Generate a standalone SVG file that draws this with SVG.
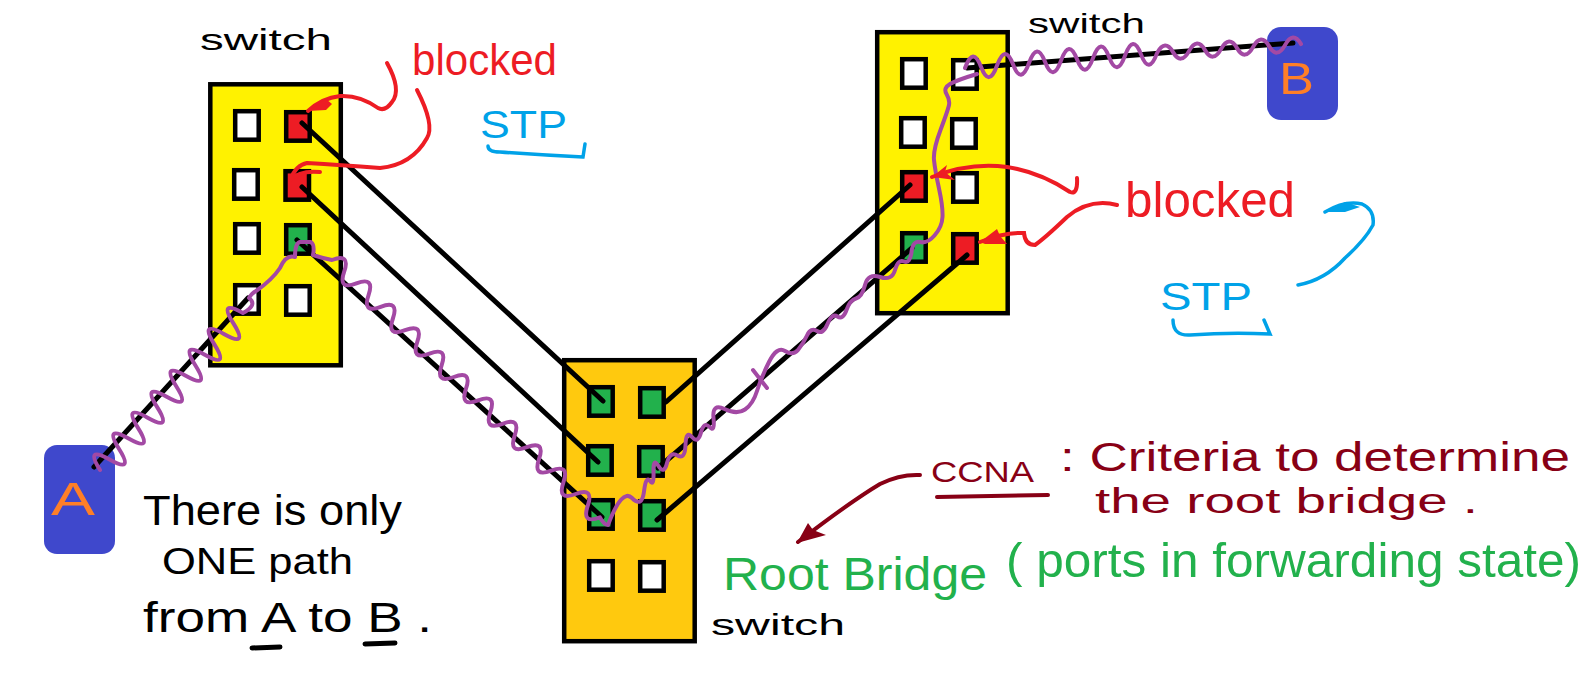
<svg xmlns="http://www.w3.org/2000/svg" width="1588" height="683" viewBox="0 0 1588 683">
<style>
text{font-family:"Liberation Sans",sans-serif}
.sw{stroke:#000;stroke-width:4.5}
.p{stroke:#000;stroke-width:4.5;width:23.5px;height:28.5px}
.w{fill:#fff}.r{fill:#ed1c24}.g{fill:#22b14c}
.l{fill:none;stroke:#000;stroke-width:5;stroke-linecap:round}
.v{fill:none;stroke:#a349a4;stroke-width:4;stroke-linejoin:round;stroke-linecap:round}
.ra{fill:none;stroke:#ed1c24;stroke-width:4;stroke-linecap:round}
.bl{fill:none;stroke:#00a2e8;stroke-width:3.5;stroke-linecap:round}
.dr{fill:none;stroke:#880015;stroke-width:4;stroke-linecap:round}
.k{fill:#000}.rt{fill:#ed1c24}.bt{fill:#00a2e8}.dt{fill:#880015}.gt{fill:#22b14c}
</style>
<rect width="1588" height="683" fill="#fff"/>
<g id="switch1">
<rect class="sw" x="210.300" y="84.300" width="130.500" height="281" fill="#fff200"/>
<rect class="p w" x="235.200" y="111.200"/><rect class="p r" x="286.200" y="112.200"/>
<rect class="p w" x="234.200" y="170.200"/><rect class="p r" x="285.500" y="171.200"/>
<rect class="p w" x="235.200" y="224.200"/><rect class="p g" x="286.200" y="225.200"/>
<rect class="p w" x="235.200" y="285.200"/><rect class="p w" x="286.200" y="286.200"/>
</g>
<g id="switch2">
<rect class="sw" x="877.200" y="32.200" width="130.500" height="281" fill="#fff200"/>
<rect class="p w" x="902.200" y="59.200"/><rect class="p w" x="953.200" y="60.200"/>
<rect class="p w" x="901.200" y="118.200"/><rect class="p w" x="952.200" y="119.200"/>
<rect class="p r" x="902.200" y="172.200"/><rect class="p w" x="953.200" y="173.200"/>
<rect class="p g" x="902.200" y="233.200"/><rect class="p r" x="953.200" y="234.200"/>
</g>
<g id="switch3">
<rect class="sw" x="564.200" y="360.200" width="130.500" height="281" fill="#ffc90e"/>
<rect class="p g" x="589.200" y="387.200"/><rect class="p g" x="640.200" y="388.200"/>
<rect class="p g" x="588.200" y="446.200"/><rect class="p g" x="639.200" y="447.200"/>
<rect class="p g" x="589.200" y="500.200"/><rect class="p g" x="640.200" y="501.200"/>
<rect class="p w" x="589.200" y="561.200"/><rect class="p w" x="640.200" y="562.200"/>
</g>
<g id="hostA"><rect x="44" y="445" width="71" height="109" rx="13" fill="#3f48cc"/><text x="51" y="515" font-size="47" fill="#ff7f27" textLength="44" lengthAdjust="spacingAndGlyphs">A</text></g>
<g id="hostB"><rect x="1267" y="27" width="71" height="93" rx="14" fill="#3f48cc"/><text x="1279" y="94" font-size="44" fill="#ff7f27" textLength="35" lengthAdjust="spacingAndGlyphs">B</text></g>
<g id="connectors">
<path class="l" d="M302 123L603 401M302 187L598 462M297 240L602 517M94 467L248 298M666 402L910 185M658 468L912 248M657 520L967 255M967 68L1293 43"/>
<path class="v" d="M100 470q-15.400 -24.500 9.530 -10.470t9.530 -10.470t9.530 -10.470t9.530 -10.470t9.530 -10.470t9.530 -10.470t9.530 -10.470t9.530 -10.470t9.530 -10.470t9.530 -10.470t9.530 -10.470t9.530 -10.470t9.530 -10.470t9.530 -10.470t9.530 -10.470Q258 305 249 298Q252 293 256 291Q272 280 280 268Q286 254 295 257Q295 243 300 242L311 242Q315 245 313 255Q322 258 332 260q18.700 -7.200 12.180 11.700t12.180 11.700t12.180 11.700t12.180 11.700t12.180 11.700t12.180 11.700t12.180 11.700t12.180 11.700t12.180 11.700t12.180 11.700t12.180 11.700t12.180 11.700t12.180 11.700t12.180 11.700t12.180 11.700t12.180 11.700t12.180 11.700t12.180 11.700t12.180 11.700t12.180 11.700t12.180 11.700t12.180 11.700Q604 525 608 525Q622 488 632 498Q642 508 644 491.500Q646 475 650 481Q654 487 653.500 472Q653 457 658.500 466Q664 475 667 463Q670 451 677.500 455.500Q685 460 685.500 445Q686 430 692 437Q698 444 701 432.500Q704 421 709.500 427Q715 433 713.500 418Q712 403 724.500 409Q737 415 745 409.500Q753 404 757 391Q761 378 769 362Q777 346 785 351Q793 356 798 350Q803 344 807 335.500Q811 327 817 331Q823 335 827.500 324Q832 313 837.500 316.500Q843 320 846.500 310Q850 300 856 298.500Q862 297 865 285Q868 273 880 277Q892 281 895 270Q898 259 904 261.500Q910 264 911.500 252Q913 240 920 242Q927 244 934.500 235.500Q942 227 942.500 217Q943 207 939 188.500Q935 170 934 160Q933 150 940.500 130Q948 110 949 105Q950 100 946.500 94Q943 88 950 84Q957 80 977 74"/>
<path class="v" d="M753 370L767 388"/>
<path class="v" d="M965 68q8 -22.600 16 -1.240t16 -1.240t16 -1.240t16 -1.240t16 -1.240t16 -1.240t16 -1.240t16 -1.240t16 -1.240t16 -1.240t16 -1.240t16 -1.240q8 -14.500 16 -1t16 -1t16 -1t16 -1t16 -1t16 -1t16 -1t16 -1t16 -1"/>
</g>
<g id="labels">
<text class="k" x="200" y="50" font-size="30" textLength="132" lengthAdjust="spacingAndGlyphs">switch</text>
<text class="k" x="1028" y="33" font-size="28" textLength="117" lengthAdjust="spacingAndGlyphs">switch</text>
<text class="k" x="711" y="635" font-size="30" textLength="134" lengthAdjust="spacingAndGlyphs">switch</text>
<text class="rt" x="412" y="75" font-size="44" textLength="145" lengthAdjust="spacingAndGlyphs">blocked</text>
<text class="rt" x="1125" y="217" font-size="50" textLength="170" lengthAdjust="spacingAndGlyphs">blocked</text>
<text class="bt" x="480" y="138" font-size="39" textLength="87" lengthAdjust="spacingAndGlyphs">STP</text>
<text class="bt" x="1160" y="310" font-size="39" textLength="92" lengthAdjust="spacingAndGlyphs">STP</text>
<text class="k" x="143" y="525" font-size="42" textLength="259" lengthAdjust="spacingAndGlyphs">There is only</text>
<text class="k" x="162" y="574" font-size="37" textLength="191" lengthAdjust="spacingAndGlyphs">ONE path</text>
<text class="k" x="143" y="632" font-size="42" textLength="289" lengthAdjust="spacingAndGlyphs">from A to B .</text>
<text class="dt" x="931" y="482" font-size="30" textLength="103" lengthAdjust="spacingAndGlyphs">CCNA</text>
<text class="dt" x="1060" y="471" font-size="40" textLength="510" lengthAdjust="spacingAndGlyphs">: Criteria to determine</text>
<text class="dt" x="1095" y="513" font-size="35" textLength="383" lengthAdjust="spacingAndGlyphs">the root bridge .</text>
<text class="gt" x="723" y="590" font-size="46" textLength="264" lengthAdjust="spacingAndGlyphs">Root Bridge</text>
<text class="gt" x="1006" y="577" font-size="48" textLength="575" lengthAdjust="spacingAndGlyphs">( ports in forwarding state)</text>
</g>
<g id="annotations">
<path class="ra" d="M387 63Q402 90 392 102Q385 112 378 108Q360 95 340 96Q322 98 308 111"/>
<path class="rt" d="M308 111L326 99L332 104L326 110Z"/>
<path class="ra" d="M417 90Q435 125 427 138Q412 165 380 168Q340 165 307 163Q296 165 290 180"/>
<path class="ra" d="M290 180Q300 170 320 172"/>
<path class="ra" d="M1077 178Q1078 195 1070 192Q1040 172 1007 167Q970 162 932 177"/>
<path class="rt" d="M932 177L947 165L945 172L955 180L940 178Z"/>
<path class="ra" d="M1117 205Q1090 198 1067 217Q1045 238 1035 245Q1025 245 1024 233Q1005 232 980 242"/>
<path class="rt" d="M980 242L997 229L1000 236L1007 244L985 244Z"/>
<path class="bl" d="M488 146Q488 152 500 152Q540 155 583 157L585 144"/>
<path class="bl" d="M1173 320Q1173 336 1190 335Q1230 332 1270 334L1264 320"/>
<path class="bl" d="M1298 285Q1325 280 1345 258Q1365 240 1373 225Q1375 210 1362 204Q1345 200 1325 212"/>
<path class="bt" d="M1325 212L1345 202L1360 207L1345 212Z"/>
<path class="dr" d="M937 497L1048 495"/>
<path class="dr" d="M920 475Q900 474 880 484Q850 502 798 542"/>
<path class="dt" d="M797 543L808 523L813 530L826 535Z"/>
<path class="l" d="M252 648L280 647M365 644L395 643"/>
</g>
</svg>
